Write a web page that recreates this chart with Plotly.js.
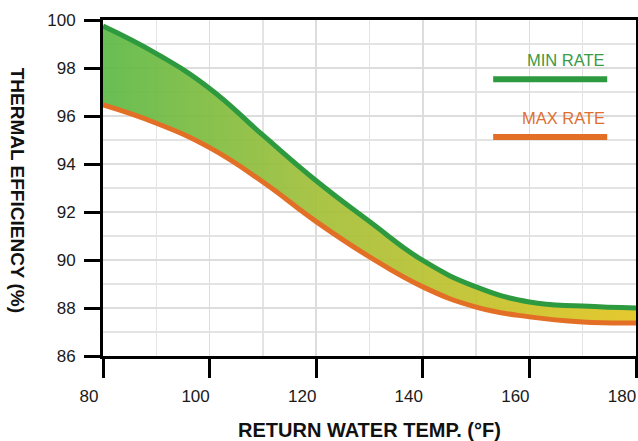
<!DOCTYPE html>
<html>
<head>
<meta charset="utf-8">
<script src="https://cdn.plot.ly/plotly-3.0.1.min.js"></script>
<style>html,body{margin:0;padding:0;background:#fff;}#chart{width:638px;height:441px;}</style>
</head>
<body>
<div id="chart"></div>
<script>
// Data
var temps = [80, 90, 100, 110, 120, 130, 140, 150, 160, 170, 180];
var minRate = [99.75, 98.6, 97.15, 95.2, 93.3, 91.6, 89.98, 88.88, 88.25, 88.08, 88.0];
var maxRate = [96.46, 95.7, 94.68, 93.25, 91.6, 90.13, 88.88, 88.04, 87.63, 87.42, 87.38];
var seriesNames = ['MAX RATE', 'MIN RATE'];
var xTickVals = [80, 100, 120, 140, 160, 180];
var yTickVals = [86, 88, 90, 92, 94, 96, 98, 100];

var FONT = '"Liberation Sans", Arial, Helvetica, sans-serif';
var GREEN = '#2e9a3f';
var ORANGE = '#e36f26';

var traces = [
  {
    x: temps, y: maxRate, name: seriesNames[0], type: 'scatter', mode: 'lines',
    line: {color: ORANGE, width: 5, shape: 'spline', smoothing: 1.3},
    hoverinfo: 'skip'
  },
  {
    x: temps, y: minRate, name: seriesNames[1], type: 'scatter', mode: 'lines',
    line: {color: GREEN, width: 5, shape: 'spline', smoothing: 1.3},
    fill: 'tonexty',
    fillgradient: {
      type: 'horizontal',
      colorscale: [[0, 'rgba(93,185,71,0.93)'], [0.4, 'rgba(163,192,58,0.93)'], [1, 'rgba(227,196,31,0.93)']]
    },
    hoverinfo: 'skip'
  }
];

var layout = {
  width: 638, height: 441,
  margin: {l: 103, r: 2, t: 20, b: 85, pad: 0},
  paper_bgcolor: '#fff', plot_bgcolor: '#fff',
  showlegend: false,
  font: {family: FONT, size: 17, color: '#1a1a1a'},
  xaxis: {
    range: [80, 180], tickvals: xTickVals, ticktext: xTickVals.map(String),
    ticks: 'outside', ticklen: 19, tickwidth: 3, tickcolor: '#000',
    ticklabelshift: -14, ticklabelstandoff: 4,
    showline: true, linecolor: '#000', linewidth: 3, mirror: true,
    showgrid: true, gridcolor: '#dddddd', gridwidth: 1.5,
    minor: {dtick: 10, showgrid: true, gridcolor: '#e4e4e4', gridwidth: 1.5},
    zeroline: false, tickfont: {family: FONT, size: 17, color: '#1a1a1a'}
  },
  yaxis: {
    range: [86, 100], tickvals: yTickVals, ticktext: yTickVals.map(String),
    ticks: 'outside', ticklen: 16, tickwidth: 3, tickcolor: '#000',
    ticklabelstandoff: 5,
    showline: true, linecolor: '#000', linewidth: 3, mirror: true,
    showgrid: true, gridcolor: '#dddddd', gridwidth: 1.5,
    minor: {dtick: 1, showgrid: true, gridcolor: '#e4e4e4', gridwidth: 1.5},
    zeroline: false, tickfont: {family: FONT, size: 17, color: '#1a1a1a'}
  },
  annotations: [
    {text: '<b>RETURN WATER TEMP. (°F)</b>', xref: 'paper', yref: 'paper', x: 0.5, y: -0.22,
     xanchor: 'center', yanchor: 'middle', showarrow: false, font: {family: FONT, size: 20, color: '#111'}},
    {text: '<b>THERMAL EFFICIENCY (%)</b>', xref: 'paper', yref: 'paper', x: -0.159, y: 0.494,
     xanchor: 'center', yanchor: 'middle', textangle: 90, showarrow: false, font: {family: FONT, size: 19, color: '#111'}},
    {text: seriesNames[1], xref: 'paper', yref: 'paper', x: 0.946, y: 0.881, xanchor: 'right', yanchor: 'middle',
     showarrow: false, font: {family: FONT, size: 16.5, color: '#3a9a45'}},
    {text: seriesNames[0], xref: 'paper', yref: 'paper', x: 0.946, y: 0.708, xanchor: 'right', yanchor: 'middle',
     showarrow: false, font: {family: FONT, size: 16.5, color: '#e07030'}}
  ],
  shapes: [
    {type: 'line', xref: 'paper', yref: 'paper', x0: 0.732, x1: 0.946, y0: 0.824, y1: 0.824, line: {color: GREEN, width: 6}},
    {type: 'line', xref: 'paper', yref: 'paper', x0: 0.732, x1: 0.946, y0: 0.652, y1: 0.652, line: {color: ORANGE, width: 6}}
  ]
};

Plotly.newPlot('chart', traces, layout, {staticPlot: true, displayModeBar: false});
</script>
</body>
</html>
